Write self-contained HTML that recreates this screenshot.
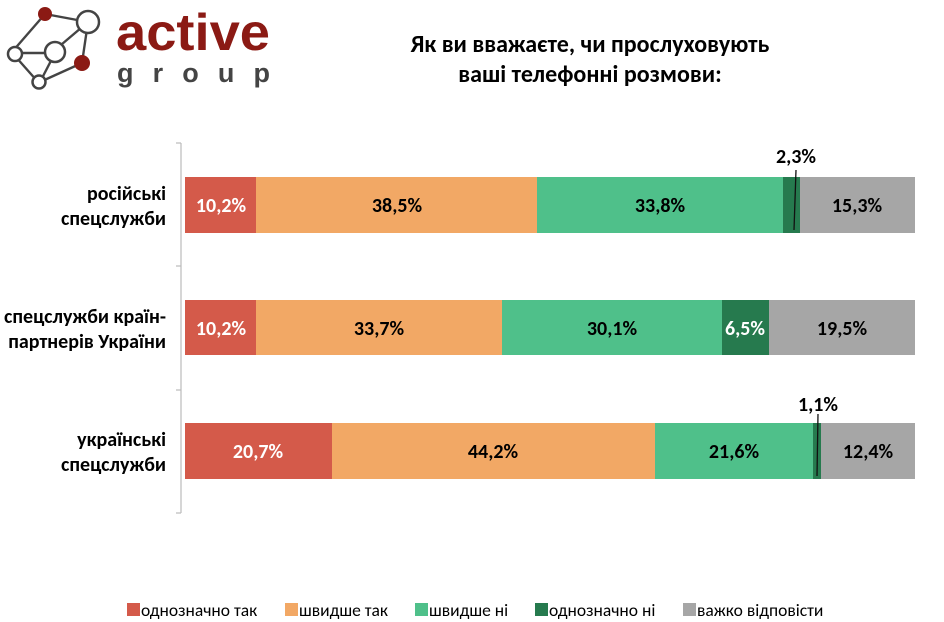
<!DOCTYPE html>
<html><head><meta charset="utf-8"><style>
body{margin:0;width:944px;height:622px;background:#fff;font-family:"Liberation Sans",sans-serif;position:relative;overflow:hidden}
</style></head><body>
<svg width="944" height="622" style="position:absolute;left:0;top:0" font-family="Carlito,'Liberation Sans',sans-serif">
<g stroke="#444" stroke-width="2.4" fill="none">
<line x1="45" y1="14" x2="88" y2="22"/><line x1="45" y1="14" x2="12" y2="52"/>
<line x1="88" y1="22" x2="55" y2="50"/><line x1="88" y1="22" x2="82" y2="63"/>
<line x1="15" y1="53" x2="55" y2="53"/><line x1="15" y1="56" x2="38" y2="82"/>
<line x1="55" y1="53" x2="40" y2="82"/><line x1="82" y1="63" x2="40" y2="82"/>
</g>
<circle cx="45" cy="14" r="7" fill="#8b1a14"/>
<circle cx="88" cy="22" r="11" fill="#fff" stroke="#444" stroke-width="2.5"/>
<circle cx="15" cy="54" r="7" fill="#fff" stroke="#444" stroke-width="2.5"/>
<circle cx="55" cy="52" r="10" fill="#fff" stroke="#444" stroke-width="2.5"/>
<circle cx="82" cy="63" r="8" fill="#8b1a14"/>
<circle cx="39" cy="82" r="6.5" fill="#fff" stroke="#444" stroke-width="2.5"/>
<text x="116" y="50" font-size="52" font-weight="bold" fill="#8b1a14" font-family="'Liberation Sans',sans-serif" textLength="154" lengthAdjust="spacingAndGlyphs">active</text>
<text x="117" y="82" font-size="27" font-weight="bold" fill="#444" font-family="'Liberation Sans',sans-serif" textLength="153" lengthAdjust="spacing">group</text>
<text x="590" y="52" font-size="24" font-weight="bold" text-anchor="middle">Як ви вважаєте, чи прослуховують</text>
<text x="590" y="82" font-size="24" font-weight="bold" text-anchor="middle">ваші телефонні розмови:</text>
<g stroke="#bbb" stroke-width="1.2">
<line x1="181" y1="143" x2="181" y2="513"/>
<line x1="176" y1="143" x2="181" y2="143"/><line x1="176" y1="266" x2="181" y2="266"/>
<line x1="176" y1="390" x2="181" y2="390"/><line x1="176" y1="513" x2="181" y2="513"/>
</g>
<g font-size="20" font-weight="bold" text-anchor="end">
<text x="166" y="200">російські</text><text x="166" y="225">спецслужби</text>
<text x="166" y="323">спецслужби країн-</text><text x="166" y="348">партнерів України</text>
<text x="166" y="446">українські</text><text x="166" y="471">спецслужби</text>
</g>
<rect x="185" y="177" width="71" height="56" fill="#d45a4a"/>
<rect x="256" y="177" width="281" height="56" fill="#f2a865"/>
<rect x="537" y="177" width="246" height="56" fill="#4fc08a"/>
<rect x="783" y="177" width="17" height="56" fill="#267a4e"/>
<rect x="800" y="177" width="115" height="56" fill="#a6a6a6"/>
<line x1="796" y1="170" x2="794" y2="230" stroke="#111" stroke-width="1.3"/>
<rect x="185" y="300" width="71" height="55" fill="#d45a4a"/>
<rect x="256" y="300" width="246" height="55" fill="#f2a865"/>
<rect x="502" y="300" width="220" height="55" fill="#4fc08a"/>
<rect x="722" y="300" width="47" height="55" fill="#267a4e"/>
<rect x="769" y="300" width="146" height="55" fill="#a6a6a6"/>
<rect x="185" y="423" width="147" height="56" fill="#d45a4a"/>
<rect x="332" y="423" width="323" height="56" fill="#f2a865"/>
<rect x="655" y="423" width="158" height="56" fill="#4fc08a"/>
<rect x="813" y="423" width="8" height="56" fill="#267a4e"/>
<rect x="821" y="423" width="94" height="56" fill="#a6a6a6"/>
<line x1="818" y1="414" x2="817" y2="476" stroke="#111" stroke-width="1.3"/>
<g font-size="20" font-weight="bold" text-anchor="middle">
<text x="221" y="212" fill="#fff">10,2%</text><text x="397" y="212">38,5%</text><text x="660" y="212">33,8%</text><text x="857" y="212">15,3%</text>
<text x="796" y="163">2,3%</text>
<text x="221" y="335" fill="#fff">10,2%</text><text x="379" y="335">33,7%</text><text x="612" y="335">30,1%</text><text x="745" y="335" fill="#fff">6,5%</text><text x="842" y="335">19,5%</text>
<text x="258" y="458" fill="#fff">20,7%</text><text x="493" y="458">44,2%</text><text x="734" y="458">21,6%</text><text x="868" y="458">12,4%</text>
<text x="818" y="411">1,1%</text>
</g>
<g font-size="17.5">
<rect x="127" y="603" width="13" height="13" fill="#d45a4a"/><text x="141" y="616">однозначно так</text>
<rect x="285" y="603" width="13" height="13" fill="#f2a865"/><text x="299" y="616">швидше так</text>
<rect x="415" y="603" width="13" height="13" fill="#4fc08a"/><text x="429" y="616">швидше ні</text>
<rect x="535" y="603" width="13" height="13" fill="#267a4e"/><text x="549" y="616">однозначно ні</text>
<rect x="683" y="603" width="13" height="13" fill="#a6a6a6"/><text x="697" y="616">важко відповісти</text>
</g>
</svg>
</body></html>
